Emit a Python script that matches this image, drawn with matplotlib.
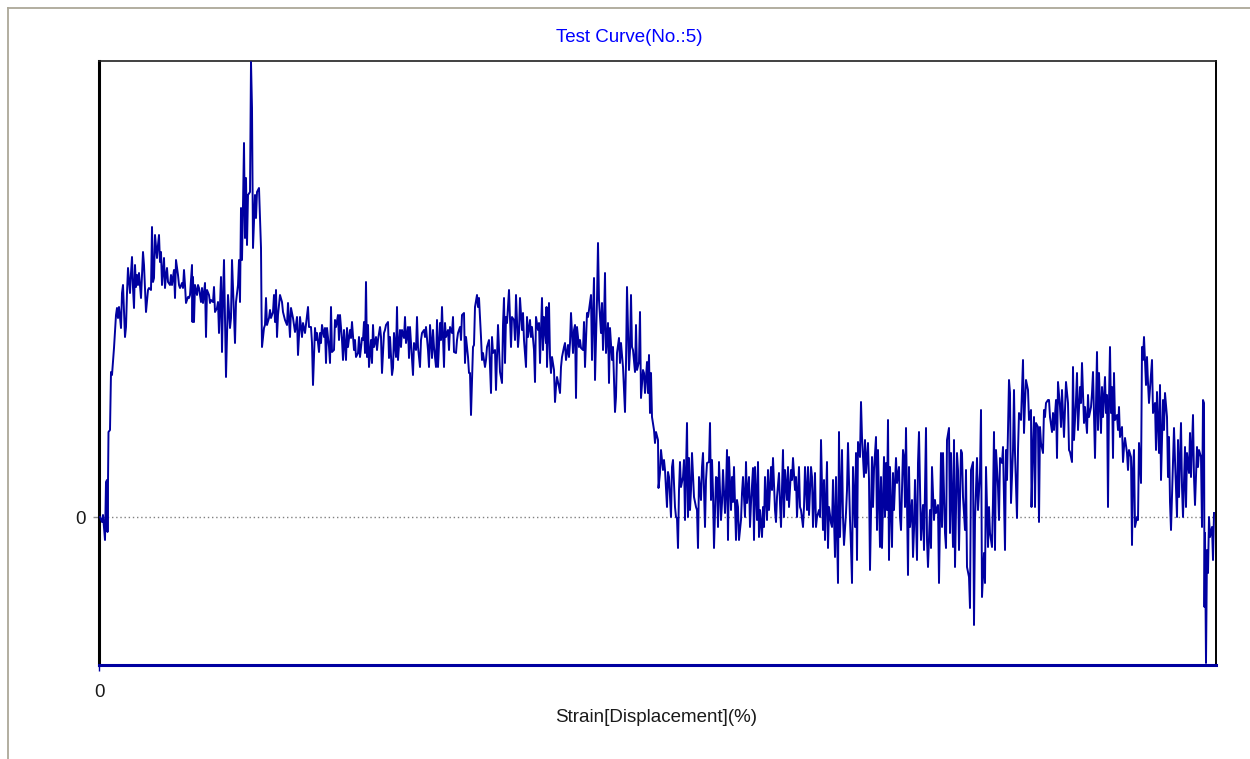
import matplotlib
matplotlib.use("Agg")
import matplotlib.pyplot as plt
from matplotlib.lines import Line2D

# ---------------- data (strain, load) ----------------
strain_1 = [
    1, 3, 4, 6, 7, 8, 8.5, 9.5, 11, 12,
    13, 15, 17, 18, 19, 20, 22, 23, 24, 26,
    27, 28, 29, 31, 32, 33, 34, 35, 36, 37,
    38, 39, 40, 42, 44, 45, 46, 47, 49, 50,
    52, 53, 54, 55, 56, 58, 59, 60, 61, 62,
    63, 65, 66, 67, 68, 69, 71, 72, 73, 75,
    76, 77, 79, 80, 81, 83, 84, 85, 86, 87,
    89, 90, 91, 93, 93.5, 94, 95, 96, 98, 99,
    100, 102, 103, 104, 106, 107, 108, 110, 111, 112,
    114, 115, 116, 118, 119, 120, 122, 123, 124, 125,
    127, 128, 129, 131, 132, 133, 135, 136, 137, 139,
    140, 141, 142, 143, 144, 145, 146, 147, 148, 149,
    151, 152, 153, 154, 156, 157, 158, 160, 162, 162.5,
    163, 165, 166, 167, 168, 170, 171, 172, 174, 175,
    176, 177, 178, 179, 181, 183, 184, 186, 188, 189,
    191, 192, 194, 196]
load_1 = [
    0, -5, 2, -23, 35, 37, -15, 85, 87, 145,
    142, 169, 202, 209, 199, 210, 189, 224, 232, 180,
    190, 224, 249, 224, 244, 260, 229, 209, 252, 230,
    242, 232, 244, 219, 265, 252, 229, 205, 227, 229,
    227, 290, 235, 239, 282, 259, 272, 282, 255, 265,
    232, 259, 229, 242, 249, 235, 232, 242, 232, 247,
    219, 257, 242, 232, 229, 234, 229, 247, 232, 214,
    220, 219, 222, 252, 195, 240, 195, 232, 222, 232,
    229, 215, 229, 214, 234, 180, 227, 222, 214, 217,
    215, 230, 205, 209, 215, 184, 240, 165, 219, 257,
    140, 180, 222, 189, 199, 257, 202, 174, 215, 232,
    257, 215, 309, 257, 312, 374, 279, 339, 272, 322,
    325, 455, 409, 269, 322, 299, 325, 329, 269, 209,
    170, 189, 192, 219, 192, 199, 207, 199, 205, 222,
    195, 227, 180, 202, 222, 215, 205, 197, 192, 214,
    180, 209, 199, 185]

strain_2 = [
    198, 199, 201, 203, 204, 206, 209, 210, 212, 213,
    214, 216, 217, 218, 220, 221, 222, 223, 225, 226,
    227, 228, 230, 231, 232, 233, 235, 236, 237, 239,
    240, 241, 243, 244, 245, 247, 248, 249, 251, 252,
    253, 255, 256, 257, 259, 260, 261, 263, 264, 265,
    266, 267, 268, 269, 270, 272, 273, 274, 275, 277,
    278, 279, 281, 282, 283, 285, 286, 287, 289, 290,
    291, 293, 294, 295, 297, 298, 299, 301, 302, 303,
    305, 306, 307, 309, 310, 311, 313, 314, 315, 317,
    318, 319, 321, 322, 323, 325, 326, 327, 329, 330,
    331, 333, 334, 335, 337, 338, 339, 341, 342, 343,
    345, 346, 347, 349, 350, 351, 353, 354, 355, 357,
    358, 359, 361, 362, 363, 365, 366, 367, 369, 370,
    371, 372, 374, 375, 376, 378, 379, 380, 382, 383,
    384, 386, 387, 388, 390]
load_2 = [
    200, 162, 200, 180, 194, 184, 210, 190, 190, 174,
    132, 189, 177, 184, 165, 184, 174, 192, 180, 189,
    154, 189, 170, 154, 210, 165, 167, 197, 190, 202,
    177, 202, 177, 157, 187, 157, 189, 170, 187, 179,
    195, 167, 177, 160, 164, 180, 160, 179, 177, 195,
    164, 235, 160, 192, 150, 177, 154, 192, 170, 180,
    167, 177, 190, 180, 144, 184, 187, 192, 195, 159,
    180, 142, 149, 184, 160, 210, 157, 187, 170, 187,
    179, 200, 174, 190, 159, 190, 157, 142, 174, 167,
    200, 170, 150, 177, 184, 187, 180, 190, 167, 150,
    192, 159, 187, 170, 150, 197, 150, 194, 177, 210,
    150, 194, 180, 187, 167, 190, 184, 200, 165, 164,
    177, 184, 190, 177, 202, 204, 154, 180, 160, 144,
    144, 102, 170, 172, 210, 222, 210, 219, 180, 157,
    164, 150, 157, 170, 177]

strain_3 = [
    392, 393, 394, 396, 397, 399, 401, 403, 404, 405,
    406, 407, 408, 410, 412, 413, 415, 416, 417, 419,
    420, 421, 423, 424, 425, 427, 428, 429, 431, 432,
    433, 435, 436, 437, 439, 440, 441, 443, 444, 445,
    447, 447.5, 448, 450, 451, 452, 453, 455, 456, 457,
    458, 460, 461, 462, 463, 465, 466, 467, 469, 470,
    471, 472, 474, 475, 476, 477, 478, 480, 481, 482,
    484, 485, 486, 488, 489, 490, 492, 493, 494, 495,
    496, 498, 499, 500, 502, 503, 504, 505, 506, 507,
    509, 510, 511, 513, 514, 516, 517, 518, 520, 521,
    522, 524, 525, 526, 527, 528, 530, 531, 532, 533,
    534, 536, 537, 538, 540, 541, 542, 544, 545, 546,
    548, 549, 550, 551, 552, 553, 555, 556, 557, 559,
    559.5, 561, 562, 564, 565, 566, 568, 569, 570, 572,
    573, 574, 576, 577, 578, 579, 580, 581, 582, 584,
    585, 586, 588, 589]
load_3 = [
    124, 180, 164, 167, 127, 192, 145, 134, 192, 219,
    154, 200, 194, 227, 170, 200, 197, 177, 222, 170,
    184, 219, 187, 204, 177, 150, 200, 180, 197, 180,
    190, 167, 135, 200, 187, 194, 154, 219, 167, 200,
    174, 210, 150, 214, 160, 144, 160, 147, 115, 130,
    140, 130, 124, 150, 160, 170, 174, 157, 172, 160,
    174, 204, 164, 187, 192, 119, 190, 170, 177, 169,
    167, 195, 150, 204, 200, 207, 222, 157, 202, 239,
    137, 217, 274, 217, 184, 214, 167, 194, 244, 164,
    194, 134, 189, 157, 170, 105, 120, 164, 179, 154,
    174, 150, 127, 105, 154, 230, 147, 167, 222, 170,
    167, 145, 192, 147, 155, 205, 119, 147, 144, 124,
    155, 124, 162, 104, 144, 100, 87, 74, 85, 77,
    29, 44, 67, 47, 57, 47, 10, 45, 40, 0,
    50, 57, 10, 0, -1, -31, 27, 55, 30, 40,
    57, -3, 94, 0]

strain_4 = [
    590, 591, 592, 593, 595, 597, 598, 599, 600, 602,
    603, 604, 606, 607, 608, 610, 611, 612, 613, 614,
    615, 617, 618, 619, 620, 622, 623, 624, 626, 627,
    628, 629, 630, 632, 633, 634, 635, 637, 638, 639,
    640, 642, 643, 644, 646, 647, 648, 650, 651, 652,
    654, 655, 656, 658, 659, 660, 661, 663, 664, 665,
    666, 668, 669, 670, 672, 673, 674, 676, 677, 678,
    680, 681, 682, 684, 685, 686, 688, 689, 690, 692,
    693, 694, 696, 697, 698, 700, 701, 702, 704, 705,
    706, 708, 709, 710, 712, 713, 714, 716, 717, 718,
    720, 721, 722, 724, 725, 726, 728, 729, 730, 732,
    733, 734, 736, 737, 739, 740, 741, 743, 744, 745,
    747, 748, 749, 751, 752, 753, 754, 756, 757, 758,
    759, 761, 762, 763, 765, 766, 767, 769, 770, 771,
    773, 774, 775, 777, 778, 779, 781, 782, 783, 785,
    786, 787]
load_4 = [
    59, 7, 27, 64, 20, 10, 7, -31, 40, 17,
    50, 64, -10, 37, 54, 55, 94, 17, 57, 24,
    -31, 40, 39, -10, 55, -3, 14, 47, 4, 27,
    67, -23, 60, 7, 40, 15, 50, -23, 17, 10,
    -23, -3, 24, 40, 0, 55, 14, 40, -10, 14,
    49, -23, 50, -3, 55, -20, 7, -20, 10, -10,
    40, -3, 47, 7, 50, 27, 59, 7, -5, 20,
    44, 14, -10, 67, 0, 47, 17, 50, 10, 47,
    37, 59, 27, 40, 0, 50, 10, 7, -10, 10,
    50, 7, 50, 2, 50, 40, -10, 44, -10, 0,
    7, 0, 77, -13, 37, -23, 55, -31, 10, -6,
    -10, 37, -40, 40, -66, 85, -20, 67, 0, -28,
    4, 27, 74, -3, -30, -66, 50, -10, 64, -43,
    75, 60, 115, 80, 40, 77, 44, 74, 37, -53,
    60, 10, 47, 80, -13, 67, -30, 40, -31, 60,
    0, 54]

strain_5 = [
    788, 789, 790, 791, 793, 794, 795, 797, 798, 800,
    801, 802, 804, 805, 806, 807, 809, 810, 811, 813,
    814, 815, 816, 818, 819, 820, 822, 823, 824, 825,
    827, 828, 829, 831, 832, 833, 835, 836, 837, 839,
    840, 842, 843, 844, 846, 847, 848, 850, 851, 852,
    854, 855, 856, 858, 859, 860, 862, 863, 864, 866,
    867, 868, 870, 871, 872, 874, 875, 876, 878, 879,
    881, 882, 883, 885, 886, 887, 889, 890, 891, 893,
    894, 895, 896, 897, 899, 900, 901, 903, 904, 906,
    907, 908, 910, 911, 912, 914, 915, 916, 918, 919,
    920, 922, 924, 925, 926, 927, 929, 930, 932, 932.5,
    934, 935, 936, 937, 939, 940, 941, 942, 944, 945,
    946, 947, 949, 950, 951, 953, 954, 955, 957, 958,
    959, 961, 962, 963, 965, 966, 967, 969, 970, 971,
    973, 974, 975, 977, 978, 979, 981, 982, 983, 985]
load_5 = [
    7, 97, -43, 50, -30, 44, 7, 59, 34, 50,
    0, -13, 67, 60, 10, 89, -58, 50, -10, 17,
    -40, -13, 37, -43, 54, 85, -23, -3, 12, -33,
    89, -23, -50, 7, -31, 50, -3, 17, 4, 12,
    -66, 64, -10, 64, -16, -31, 77, 89, -16, 64,
    -30, 77, -50, 64, 47, -33, 67, 64, 20, -13,
    47, -50, -60, -91, 47, 55, -108, -3, 59, 7,
    44, 107, -80, -36, -66, 50, -30, 10, -16, -30,
    17, 85, -33, 67, 30, -3, 59, 54, 70, -33,
    67, 37, 137, 124, 14, 67, 127, 64, -1, 67,
    104, 97, 157, 84, 114, 137, 127, 97, 107, 10,
    74, 100, 10, 94, 90, -5, 90, 74, 64, 107,
    100, 114, 117, 117, 100, 85, 104, 87, 117, 59,
    135, 110, 90, 127, 80, 107, 135, 114, 67, 65,
    55, 150, 77, 117, 144, 87, 130, 114, 154, 94]

strain_6 = [
    986, 988, 989, 990, 992, 993, 994, 996, 997, 998,
    999, 1000, 1002, 1003, 1004, 1006, 1007, 1008, 1009, 1010,
    1011, 1012, 1013, 1014, 1015, 1016, 1018, 1019, 1020, 1021,
    1023, 1024, 1025, 1026, 1028, 1029, 1030, 1032, 1033, 1034,
    1035, 1036, 1038, 1039, 1040, 1042, 1043, 1044, 1045, 1047,
    1048, 1049, 1050, 1052, 1053, 1054, 1056, 1057, 1058, 1060,
    1061, 1062, 1064, 1065, 1066, 1068, 1069, 1070, 1071, 1072,
    1074, 1075, 1076, 1078, 1079, 1080, 1082, 1083, 1084, 1086,
    1087, 1088, 1090, 1091, 1092, 1094, 1095, 1096, 1098, 1099,
    1100, 1102, 1103, 1104, 1105, 1105.5, 1106, 1107, 1108, 1109,
    1110, 1111, 1113, 1114, 1115]
load_6 = [
    110, 84, 122, 100, 110, 124, 145, 59, 114, 165,
    87, 144, 84, 130, 100, 140, 104, 122, 10, 117,
    170, 104, 130, 59, 144, 97, 102, 87, 110, 80,
    90, 55, 70, 79, 64, 47, 67, 60, -28, 47,
    67, -10, 0, -3, 74, 34, 170, 157, 180, 132,
    160, 134, 114, 142, 157, 104, 114, 67, 125, 64,
    132, 37, 117, 87, 124, 100, 40, 80, 15, -13,
    57, 89, 57, 0, 77, 20, 94, 30, 0, 70,
    10, 64, 44, 84, 40, 102, 40, 12, 70, 50,
    67, 60, -10, 117, 114, -90, -16, -146, -33, -56,
    0, -20, -10, -43, 4]

strain_segments = [strain_1, strain_2, strain_3, strain_4, strain_5, strain_6]
load_segments = [load_1, load_2, load_3, load_4, load_5, load_6]
for s, l in zip(strain_segments, load_segments):
    assert len(s) == len(l), (len(s), len(l))
strain = [v for seg in strain_segments for v in seg]
load = [v for seg in load_segments for v in seg]

title_text = "Test Curve(No.:5)"
xlabel_text = "Strain[Displacement](%)"
x_ticks = [0]
y_ticks = [0]
x_range = (0, 1117)
y_range = (-148, 456)

# ---------------- drawing ----------------
plt.rcParams['font.family'] = ['Liberation Sans', 'DejaVu Sans']
W, H = 1250, 759
fig = plt.figure(figsize=(W / 100, H / 100), dpi=100)
fig.patch.set_facecolor('white')

ax = fig.add_axes([99 / W, 1 - 665 / H, 1117 / W, 604 / H])
ax.plot(strain, load, color='#0000A0', lw=1.4, zorder=3)
ax.axhline(0, color='#808080', lw=1.0, ls=(0, (1, 2)), zorder=1)
ax.set_xlim(*x_range)
ax.set_ylim(*y_range)
ax.set_xticks(x_ticks)
ax.set_xticklabels([str(t) for t in x_ticks])
ax.set_yticks(y_ticks)
ax.set_yticklabels([str(t) for t in y_ticks])
ax.tick_params(axis='x', colors='#0000A0', length=4.5, width=1,
               labelcolor='#1a1a1a', labelsize=13.5, pad=9)
ax.tick_params(axis='y', colors='#909090', length=4.5, width=1,
               labelcolor='#1a1a1a', labelsize=13.5, pad=5)

ax.spines['left'].set_color('black')
ax.spines['left'].set_linewidth(2.2)
ax.spines['top'].set_color('#202020')
ax.spines['top'].set_linewidth(1.2)
ax.spines['right'].set_color('black')
ax.spines['right'].set_linewidth(1.4)
ax.spines['bottom'].set_color('#0000A0')
ax.spines['bottom'].set_linewidth(2.2)

fig.text(629 / W, 1 - 37 / H, title_text, color='#0000FF',
         fontsize=13.5, ha='center', va='center')
fig.text(656 / W, 1 - 717 / H, xlabel_text, color='#1a1a1a',
         fontsize=13.5, ha='center', va='center')

# outer frame of the window
border = '#ACA899'
fig.add_artist(Line2D([7.5 / W, 1.0], [1 - 7.5 / H, 1 - 7.5 / H],
                      color=border, lw=1.3, transform=fig.transFigure))
fig.add_artist(Line2D([7.5 / W, 7.5 / W], [0.0, 1 - 7.5 / H],
                      color=border, lw=1.3, transform=fig.transFigure))

fig.savefig('out.png', dpi=100, facecolor='white')
